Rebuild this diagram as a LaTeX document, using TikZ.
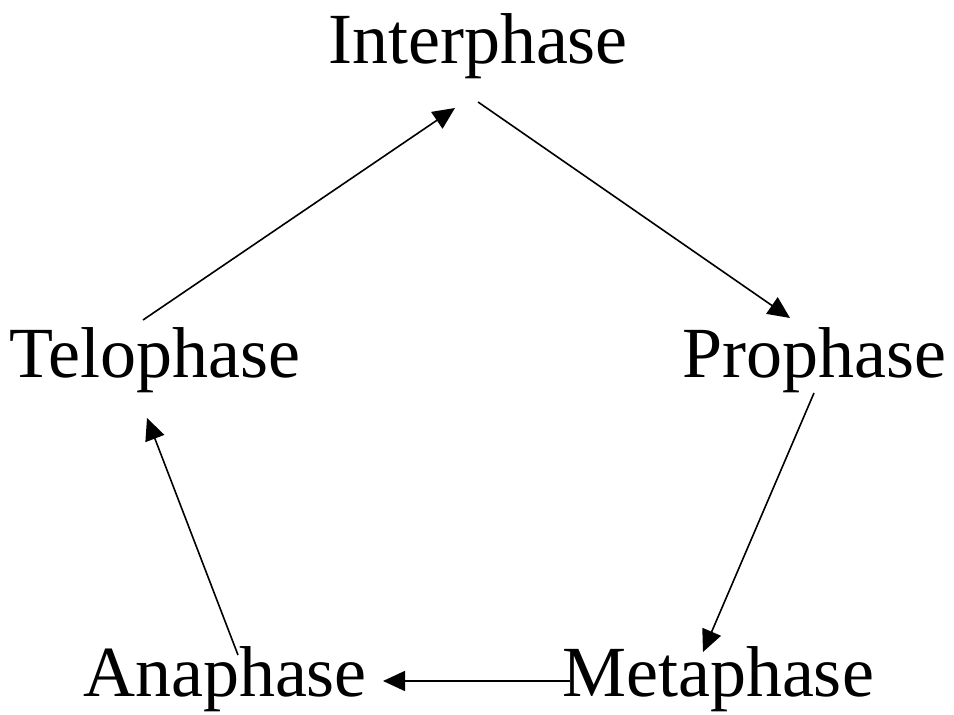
\documentclass[tikz,border=0pt]{standalone}
\usepackage{fontspec}
\setmainfont{Liberation Serif}
\usetikzlibrary{arrows.meta}
\begin{document}
\begin{tikzpicture}[x=1pt,y=1pt,
  lbl/.style={font=\fontsize{72}{86}\selectfont, inner sep=0pt, anchor=base},
  conn/.style={line width=1.6pt, -{Triangle[length=22pt,width=20pt]}}]
\useasboundingbox (0,0) rectangle (954,715);
\node[lbl] (inter) at (478,651) {Interphase};
\node[lbl] (pro) at (814,337) {Prophase};
\node[lbl] (tel) at (155,337) {Telophase};
\node[lbl] (ana) at (225,18) {Anaphase};
\node[lbl] (meta) at (718,18) {Metaphase};
% connector end points
\coordinate (i-out) at (478,613);
\coordinate (p-in) at (790,397);
\coordinate (p-out) at (814,322);
\coordinate (m-in) at (703,63);
\coordinate (m-out) at (570,34);
\coordinate (a-in) at (383,34);
\coordinate (a-out) at (238,60);
\coordinate (t-in) at (147,297);
\coordinate (t-out) at (143,395);
\coordinate (i-in) at (455,607);
\draw[conn] (i-out) -- (p-in);
\draw[conn] (p-out) -- (m-in);
\draw[conn] (m-out) -- (a-in);
\draw[conn] (a-out) -- (t-in);
\draw[conn] (t-out) -- (i-in);
\end{tikzpicture}
\end{document}
